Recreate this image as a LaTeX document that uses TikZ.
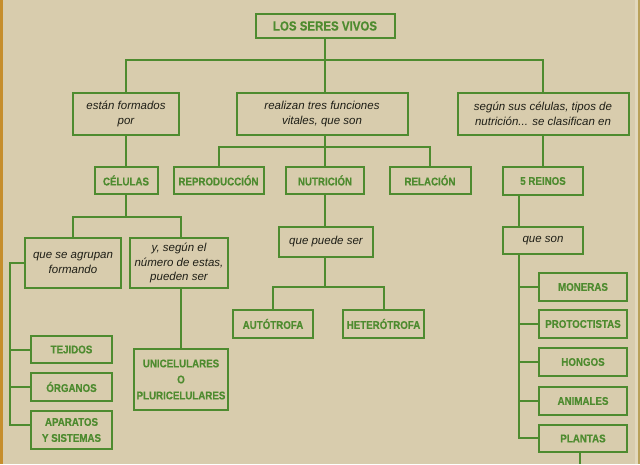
\documentclass[tikz,border=0pt]{standalone}
\usepackage{fontspec}
\setmainfont{Liberation Sans}
\newfontfamily\capfont[FakeStretch=0.87,FakeBold=0.4]{Liberation Sans}
\definecolor{bg}{HTML}{D8CCAD}
\definecolor{gr}{HTML}{4E8B2F}
\definecolor{edgeL}{HTML}{C68E2C}
\definecolor{edgeR}{HTML}{B9A15A}
\definecolor{edgeRl}{HTML}{E2D8BD}
\definecolor{ink}{HTML}{1E1E16}
\begin{document}
\begin{tikzpicture}[x=1pt,y=-1pt,
  box/.style={draw=gr, line width=2pt, inner sep=0pt, align=center},
  capbox/.style={box, font=\capfont\bfseries\fontsize{11.2}{16}\selectfont, text=gr},
  ttlbox/.style={box, font=\capfont\bfseries\fontsize{13.2}{16}\selectfont, text=gr},
  itbox/.style={box, font=\itshape\fontsize{11.5}{14.5}\selectfont, text=ink},
  ln/.style={draw=gr, line width=2pt}]
\useasboundingbox (0,0) rectangle (640,464);
\fill[bg] (0,0) rectangle (640,464);
\fill[edgeL] (0,0) rectangle (2.5,464);
\fill[edgeRl] (635,0) rectangle (638,464);
\fill[edgeR] (638,0) rectangle (640,464);

% nodes
\node[ttlbox, minimum width=139, minimum height=24] (title) at (325,26) {LOS SERES VIVOS};
\node[itbox, minimum width=106, minimum height=42] (forma) at (126,114) {están formados\\por};
\node[itbox, minimum width=171, minimum height=42] (funciones) at (322,114) {realizan tres funciones\\vitales, que son};
\node[itbox, minimum width=171, minimum height=42] (segun) at (543,114) {según sus células, tipos de\\nutrición... se clasifican en};

\node[capbox, minimum width=63, minimum height=27] (celulas) at (126,180.5) {CÉLULAS};
\node[capbox, minimum width=90, minimum height=27] (repro) at (218.5,180.5) {REPRODUCCIÓN};
\node[capbox, minimum width=78, minimum height=27] (nutri) at (325,180.5) {NUTRICIÓN};
\node[capbox, minimum width=81, minimum height=27] (relacion) at (430,180.5) {RELACIÓN};
\node[capbox, minimum width=80, minimum height=28] (reinos) at (543,181) {5 REINOS};

\node[itbox, minimum width=96, minimum height=50] (agrupan) at (73,263) {que se agrupan\\formando};
\node[itbox, minimum width=98, minimum height=50] (segunel) at (179,263) {y, según el\\número de estas,\\pueden ser};

\node[capbox, minimum width=81, minimum height=27] (tejidos) at (71.5,349.5) {TEJIDOS};
\node[capbox, minimum width=81, minimum height=28] (organos) at (71.5,387) {ÓRGANOS};
\node[capbox, minimum width=81, minimum height=38] (aparatos) at (71.5,430) {APARATOS\\Y SISTEMAS};
\node[capbox, minimum width=94, minimum height=61] (unicel) at (181,379.5) {UNICELULARES\\O\\PLURICELULARES};

\node[itbox, minimum width=94, minimum height=30] (quepuede) at (326,242) {que puede ser};
\node[capbox, minimum width=80, minimum height=28] (auto) at (273,324) {AUTÓTROFA};
\node[capbox, minimum width=81, minimum height=28] (hetero) at (383.5,324) {HETERÓTROFA};

\node[itbox, minimum width=80, minimum height=27] (queson) at (543,240.5) {que son};
\node[capbox, minimum width=88, minimum height=28] (moneras) at (583,287) {MONERAS};
\node[capbox, minimum width=88, minimum height=28] (protoc) at (583,324) {PROTOCTISTAS};
\node[capbox, minimum width=88, minimum height=28] (hongos) at (583,362) {HONGOS};
\node[capbox, minimum width=88, minimum height=28] (animales) at (583,401) {ANIMALES};
\node[capbox, minimum width=88, minimum height=27] (plantas) at (583,438.5) {PLANTAS};

% connectors
\coordinate (j1) at (325,60);
\draw[ln] (title.south) -- (j1);
\draw[ln] (forma.north) |- (j1) -| (segun.north);
\draw[ln] (j1) -- (j1 |- funciones.north);

\coordinate (j2) at (325,147);
\draw[ln] (j1 |- funciones.south) -- (j2);
\draw[ln] (repro.north) |- (j2) -| (relacion.north);
\draw[ln] (j2) -- (nutri.north);
\draw[ln] (forma.south) -- (celulas.north);
\draw[ln] (segun.south) -- (reinos.north);

\coordinate (j3) at (126,217);
\draw[ln] (celulas.south) -- (j3);
\coordinate (j3b) at (181,217);
\draw[ln] (agrupan.north) |- (j3) -- (j3b) -- (j3b |- segunel.north);
\draw[ln] (j3b |- segunel.south) -- (unicel.north);

\coordinate (b1) at (10,425);
\draw[ln] (agrupan.west) -| (b1) -- (b1 -| aparatos.west);
\draw[ln] (tejidos.west) -- (tejidos.west -| b1);
\draw[ln] (organos.west) -- (organos.west -| b1);

\draw[ln] (nutri.south) -- (quepuede.north -| nutri.south);
\coordinate (j4) at (325,287);
\draw[ln] (quepuede.south -| j4) -- (j4);
\draw[ln] (auto.north) |- (j4) -| (hetero.north);

\coordinate (rx) at (519,0);
\draw[ln] (reinos.south -| rx) -- (queson.north -| rx);
\coordinate (b2) at (519,438);
\draw[ln] (queson.south -| rx) -- (b2) -- (b2 -| plantas.west);
\draw[ln] (moneras.west) -- (moneras.west -| rx);
\draw[ln] (protoc.west) -- (protoc.west -| rx);
\draw[ln] (hongos.west) -- (hongos.west -| rx);
\draw[ln] (animales.west) -- (animales.west -| rx);
\coordinate (pend) at (580,464);
\draw[ln] (plantas.south -| pend) -- (pend);
\end{tikzpicture}
\end{document}
